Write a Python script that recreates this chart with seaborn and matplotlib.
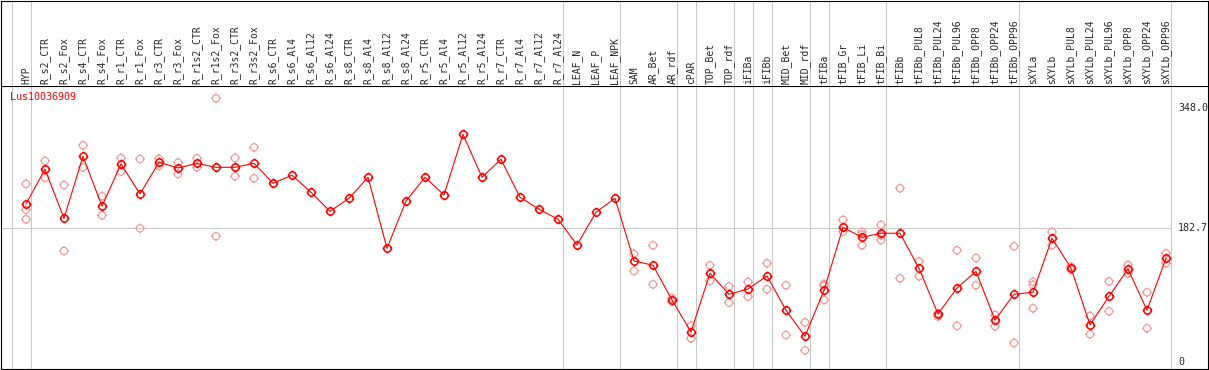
import matplotlib
matplotlib.use("Agg")
import matplotlib.pyplot as plt
from matplotlib.path import Path
import pandas as pd
import seaborn as sns

# ---- data ----
gene = "Lus10036909"

samples = ["HYP", "R_s2_CTR", "R_s2_Fox", "R_s4_CTR", "R_s4_Fox", "R_r1_CTR", "R_r1_Fox",
           "R_r3_CTR", "R_r3_Fox", "R_r1s2_CTR", "R_r1s2_Fox", "R_r3s2_CTR", "R_r3s2_Fox",
           "R_s6_CTR", "R_s6_Al4", "R_s6_Al12", "R_s6_Al24", "R_s8_CTR", "R_s8_Al4",
           "R_s8_Al12", "R_s8_Al24", "R_r5_CTR", "R_r5_Al4", "R_r5_Al12", "R_r5_Al24",
           "R_r7_CTR", "R_r7_Al4", "R_r7_Al12", "R_r7_Al24", "LEAF_N", "LEAF_P", "LEAF_NPK",
           "SAM", "AR_Bet", "AR_rdf", "cPAR", "TOP_Bet", "TOP_rdf", "iFIBa", "iFIBb",
           "MID_Bet", "MID_rdf", "tFIBa", "tFIB_Gr", "tFIB_Li", "tFIB_Bi", "tFIBb",
           "tFIBb_PUL8", "tFIBb_PUL24", "tFIBb_PUL96", "tFIBb_OPP8", "tFIBb_OPP24",
           "tFIBb_OPP96", "sXYLa", "sXYLb", "sXYLb_PUL8", "sXYLb_PUL24", "sXYLb_PUL96",
           "sXYLb_OPP8", "sXYLb_OPP24", "sXYLb_OPP96"]

means = [216, 263.6, 196.4, 281.4, 212.9, 270.9, 229.8, 273.2, 265.4, 271.6, 266.3,
         266.3, 271.8, 244.4, 255.4, 232.1, 206, 223.8, 252.6, 155.3, 220.1, 252.6,
         228.4, 311.5, 252.6, 277.3, 225.2, 208.8, 195.1, 159.9, 204.7, 223.8,
         138, 132, 84.5, 40.6, 121, 92.3, 99.5, 117.4, 70.4, 34.6, 97.7, 184.1,
         170.4, 175.9, 175.9, 127.9, 65.3, 100.9, 123.7, 57, 92.3, 95, 169,
         128.3, 50.3, 89.4, 126.8, 70.4, 141.6]

# visible replicate points (light circles)
reps = [[243.5, 208, 195], [275, 252], [242, 151.7], [296.5, 266.3], [226.6, 200.5],
        [279, 260.4], [277.7, 182.7], [278.2, 268.2], [272.7, 257.2], [278.6, 266.3],
        [360.9, 171.8], [279.1, 254], [293.7, 251.3],
        [], [], [], [], [], [], [], [], [], [], [], [], [], [], [], [], [], [], [],
        [147.6, 124.2], [159.4, 105.9], [86.8, 82.2], [49.3, 31.9], [132, 110.6],
        [103.2, 80.9], [109.2, 89.1], [134.8, 99.1], [104.6, 36.5], [53.8, 15.5],
        [106.4, 84.5, 104], [194.1, 178.2], [177.7, 159.4, 174], [187.3, 166.7, 173],
        [237.6, 114.2], [137.4, 116.9], [66.2, 61.7], [152.6, 48.9], [142, 104.6],
        [63.9, 48.4], [158, 25.6], [109.6, 73.1, 105], [177.7, 159.4], [130.1, 126],
        [62.6, 37.5], [110, 68.9], [132.4, 121], [95, 45.7], [148.4, 134.8]]

group_ends = [0, 28, 31, 34, 35, 37, 38, 39, 41, 42, 45, 52, 60]
tick_vals = [348.0, 182.7, 0]
tick_labels = ["348.0", "182.7", "0"]

# ---- frames ----
rep_x, rep_y = [], []
for i, r in enumerate(reps):
    for v in r:
        rep_x.append(i)
        rep_y.append(v)
df_rep = pd.DataFrame({"x": rep_x, "value": rep_y})
df_mean = pd.DataFrame({"x": range(len(samples)), "value": means})

sns.set_style("white")
plt.rcParams["font.family"] = ["DejaVu Sans Mono"]

W, H = 1209, 370
fig = plt.figure(figsize=(W / 100, H / 100), dpi=100)

xlim = ((1 - 26) / 19, (1208 - 26) / 19)
ax = fig.add_axes([1 / W, 1 / H, 1207 / W, 283 / H])
hax = fig.add_axes([1 / W, 284 / H, 1207 / W, 85.5 / H])

# ring marker with small ticks
circ = Path.unit_circle()
verts = list(circ.vertices)
codes = list(circ.codes)
for dx, dy in [(0, 1), (0, -1), (1, 0), (-1, 0)]:
    verts += [(dx, dy), (dx * 1.35, dy * 1.35)]
    codes += [Path.MOVETO, Path.LINETO]
ring = Path(verts, codes)

grid_c = "#c8c8c8"
seps = [-0.75] + [g + 0.25 for g in group_ends]
for a in (ax, hax):
    for s in seps:
        a.axvline(s, color=grid_c, lw=0.75, zorder=0)
    a.set_xlim(*xlim)
    a.set_xticks([])
    a.set_yticks([])
    for sp in a.spines.values():
        sp.set_color("black")
        sp.set_linewidth(0.8)
hax.spines["bottom"].set_visible(False)

ax.hlines(182.7, xlim[0], seps[-1], color=grid_c, lw=0.75, zorder=0)

pink = "#f09c9c"
sns.scatterplot(data=df_rep, x="x", y="value", ax=ax, marker=ring, s=7 ** 2,
                color=pink, facecolors="none", edgecolor=pink, linewidth=0.9,
                zorder=2, legend=False)
sns.lineplot(data=df_mean, x="x", y="value", ax=ax, color="red", lw=0.8,
             marker=ring, ms=7, mfc="none", mec="red", mew=1.1, zorder=3)

ax.set_ylim((361.6 - 369) / 0.7296, (361.6 - 86) / 0.7296)
ax.set_xlabel("")
ax.set_ylabel("")

ax.text(-0.84, 362.7, gene, color="red", fontsize=7.2, ha="left", va="center")
for v, lab in zip(tick_vals, tick_labels):
    ax.text(60.63, v, lab, fontsize=7.2, ha="left", va="center", clip_on=False)

hax.set_ylim(0, 85.5)
for i, name in enumerate(samples):
    hax.text(i, 2.2, name, rotation=90, fontsize=7, ha="center", va="bottom")

fig.savefig("out.png", dpi=100)
